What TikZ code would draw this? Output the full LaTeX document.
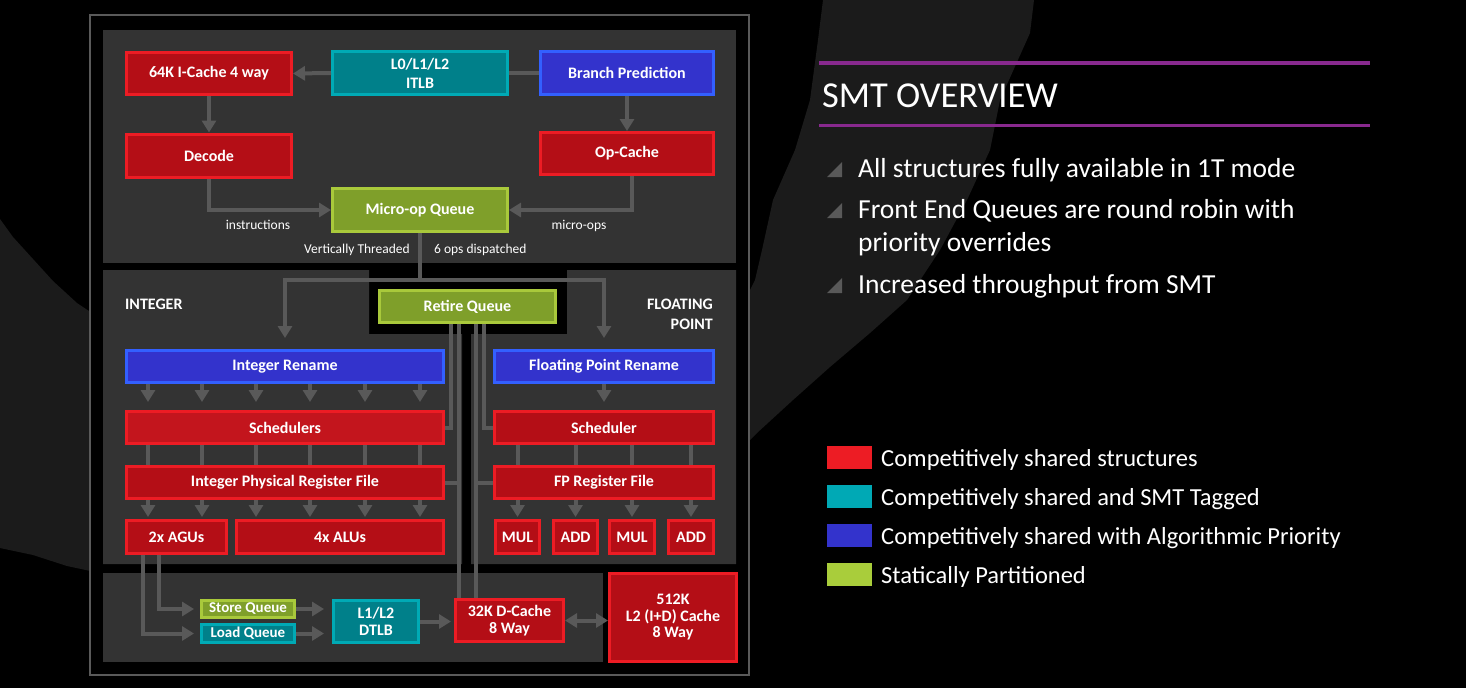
\documentclass[tikz,border=0pt]{standalone}
\usepackage{fontspec}
\setmainfont{Carlito}
\usetikzlibrary{arrows.meta}
\definecolor{cellred}{HTML}{B40E16}
\definecolor{cellredlight}{HTML}{C3151D}
\definecolor{edgered}{HTML}{ED1C24}
\definecolor{cellteal}{HTML}{00808A}
\definecolor{edgeteal}{HTML}{00AAB5}
\definecolor{cellblue}{HTML}{3333CC}
\definecolor{edgeblue}{HTML}{3360FF}
\definecolor{cellgreen}{HTML}{7F9F2A}
\definecolor{edgegreen}{HTML}{A9C93B}
\definecolor{panelgray}{HTML}{333333}
\definecolor{linkgray}{HTML}{595959}
\definecolor{framegray}{HTML}{5A5A5A}
\definecolor{brushgray}{HTML}{1B1B1B}
\definecolor{rulepurple}{HTML}{88298E}
\definecolor{legteal}{HTML}{00A9B5}
\definecolor{leggreen}{HTML}{A9CD3B}
\tikzset{
  box/.style={draw, line width=3pt, text=white, align=center, inner sep=0pt,
    font=\bfseries\fontsize{16}{19}\selectfont},
  redbox/.style={box, fill=cellred, draw=edgered},
  tealbox/.style={box, fill=cellteal, draw=edgeteal},
  bluebox/.style={box, fill=cellblue, draw=edgeblue},
  greenbox/.style={box, fill=cellgreen, draw=edgegreen},
  link/.style={draw=linkgray, line width=4pt},
  arr/.style={link, -{Triangle[width=14pt,length=12pt]}},
  lbl/.style={text=white, inner sep=0pt, font=\fontsize{13.5}{16}\selectfont},
  unit/.style={text=white, inner sep=0pt, font=\bfseries\fontsize{16}{20}\selectfont},
  slide/.style={text=white, inner sep=0pt, anchor=base west},
}
\begin{document}
\begin{tikzpicture}[x=1pt,y=-1pt]
% Background and brush strokes
\fill[black] (0,0) rectangle (1466,688);
\useasboundingbox (0,0) rectangle (1466,688);
\fill[brushgray] (823,0) -- (1034,0) -- (1030,33) -- (1000,100) -- (990,150) -- (967,200)
  -- (940,250) -- (907,300) -- (870,333) -- (830,367) -- (793,400) -- (757,433) -- (745,445)
  -- (745,300) -- (755,280) -- (762,250) -- (773,200) -- (795,150) -- (810,100) -- (818,40) -- cycle;
\fill[brushgray] (0,219) -- (13,237) -- (33,259) -- (53,281) -- (77,303) -- (95,315)
  -- (95,572) -- (67,566) -- (33,555) -- (0,548) -- cycle;
% Frame and panels
\draw[draw=framegray, fill=black, line width=1.2pt] (90,15) rectangle (749,675);
\fill[panelgray] (103,30) rectangle (736,263);
\fill[panelgray] (103,270) -- (369,270) -- (369,334) -- (462,334) -- (462,564) -- (103,564) -- cycle;
\fill[panelgray] (567,270) -- (736,270) -- (736,564) -- (471,564) -- (471,334) -- (567,334) -- cycle;
\fill[panelgray] (103,573) rectangle (603,662);
% Front end
\node[redbox, minimum width=165pt, minimum height=42pt] (icache) at (209,73.5) {64K I-Cache 4 way};
\node[tealbox, minimum width=175pt, minimum height=43pt] (itlb) at (420,73) {L0/L1/L2\\ITLB};
\node[bluebox, minimum width=173pt, minimum height=43pt] (branch) at (627,73) {Branch Prediction};
\node[redbox, minimum width=165pt, minimum height=43pt] (decode) at (209,155.5) {Decode};
\node[redbox, minimum width=173pt, minimum height=42pt] (opcache) at (627,153.5) {Op-Cache};
\node[greenbox, minimum width=175pt, minimum height=43pt] (uopq) at (420,210) {Micro-op Queue};
\node[lbl, anchor=base] (instr) at (258,229) {instructions};
\node[lbl, anchor=base] (uops) at (579,229) {micro-ops};
\node[lbl, anchor=base east] (vthread) at (410,253) {Vertically Threaded};
\node[lbl, anchor=base west] (sixops) at (434,253) {6 ops dispatched};
% Integer and floating point
\node[greenbox, minimum width=176pt, minimum height=32pt] (retire) at (467.5,306.5) {Retire Queue};
\node[unit, anchor=base west] (intlbl) at (125,309) {INTEGER};
\node[unit, anchor=north east, align=right] (fplbl) at (713,298.5) {FLOATING\\POINT};
\node[bluebox, minimum width=317pt, minimum height=32pt] (intren) at (285,366.5) {Integer Rename};
\node[redbox, fill=cellredlight, minimum width=317pt, minimum height=32pt] (sched) at (285,427.5) {Schedulers};
\node[redbox, minimum width=317pt, minimum height=32pt] (iprf) at (285,482.5) {Integer Physical Register File};
\node[redbox, minimum width=100pt, minimum height=33pt] (agu) at (176.5,537) {2x AGUs};
\node[redbox, minimum width=207pt, minimum height=33pt] (alu) at (340,537) {4x ALUs};
\node[bluebox, minimum width=219pt, minimum height=32pt] (fpren) at (604,366.5) {Floating Point Rename};
\node[redbox, minimum width=219pt, minimum height=32pt] (fpsched) at (604,427.5) {Scheduler};
\node[redbox, minimum width=219pt, minimum height=32pt] (fprf) at (604,482.5) {FP Register File};
\node[redbox, minimum width=44pt, minimum height=33pt] (mul1) at (517.5,537) {MUL};
\node[redbox, minimum width=44pt, minimum height=33pt] (add1) at (575.5,537) {ADD};
\node[redbox, minimum width=45pt, minimum height=33pt] (mul2) at (632,537) {MUL};
\node[redbox, minimum width=45pt, minimum height=33pt] (add2) at (691,537) {ADD};
% Load / store
\node[greenbox, minimum width=93pt, minimum height=17pt, font=\bfseries\fontsize{15}{16}\selectfont] (storeq) at (248,609) {Store Queue};
\node[tealbox, minimum width=93pt, minimum height=18pt, font=\bfseries\fontsize{15}{16}\selectfont] (loadq) at (248,633.5) {Load Queue};
\node[tealbox, minimum width=85pt, minimum height=42pt, font=\bfseries\fontsize{16}{16.5}\selectfont] (dtlb) at (376,621.5) {L1/L2\\DTLB};
\node[redbox, minimum width=108pt, minimum height=42pt, font=\bfseries\fontsize{16}{16.5}\selectfont] (dcache) at (509.5,620.5) {32K D-Cache\\8 Way};
\node[redbox, minimum width=127pt, minimum height=88pt, font=\bfseries\fontsize{16}{16.5}\selectfont] (l2) at (673,617.5) {512K\\L2 (I+D) Cache\\8 Way};
% Front end connectors
\draw[arr] (itlb.west) -- (icache.east);
\draw[link] (branch.west) -- (itlb.east);
\draw[arr] (icache) -- (decode);
\draw[arr] (branch) -- (opcache);
\draw[arr] (decode.south) |- (uopq.west);
\draw[arr] ([xshift=5pt]opcache.south) |- (uopq.east);
\draw[link] (uopq.south) -- ++(0,47) coordinate (split);
\draw[arr, shorten >=11pt] (split) -| (intren.north);
\draw[arr, shorten >=11pt] (split) -| (fpren.north);
% Integer connectors
\foreach \dx in {23,77,131,185,240,295} {
  \draw[arr, shorten >=8pt] ([xshift=\dx pt]intren.south west) -- ([xshift=\dx pt]sched.north west);
  \draw[link] ([xshift=\dx pt]sched.south west) -- ([xshift=\dx pt]iprf.north west);
}
\foreach \a/\b in {23/23,77/77} \draw[arr, shorten >=2pt] ([xshift=\a pt]iprf.south west) -- ([xshift=\b pt]agu.north west);
\foreach \a/\b in {131/21,185/75,240/130,295/185} \draw[arr, shorten >=2pt] ([xshift=\a pt]iprf.south west) -- ([xshift=\b pt]alu.north west);
% Floating point connectors
\draw[arr, shorten >=8pt] (fpren) -- (fpsched);
\foreach \n in {mul1,add1,mul2,add2} {
  \draw[link] (\n.north |- fpsched.south) -- (\n.north |- fprf.north);
  \draw[arr, shorten >=2pt] (\n.north |- fprf.south) -- (\n.north);
}
% Retire queue links
\draw[link] ([xshift=-16.5pt]retire.south) |- (sched.east);
\draw[link] ([xshift=16.5pt]retire.south) |- (fpsched.west);
\draw[link] ([xshift=-8.5pt]retire.south) coordinate (rtl) -- ([xshift=-50.5pt]dcache.north);
\draw[link] ([xshift=8.5pt]retire.south) coordinate (rtr) -- ([xshift=-33.5pt]dcache.north);
\draw[link] (iprf.east) -- (iprf.east -| rtl);
\draw[link] (fprf.west) -- (fprf.west -| rtr);
% Load / store connectors
\draw[arr, shorten >=6pt] ([xshift=34pt]agu.south west) |- (storeq.west);
\draw[arr, shorten >=6pt] ([xshift=18pt]agu.south west) |- (loadq.west);
\draw[arr, shorten >=8pt] (storeq.east) -- (storeq.east -| dtlb.west);
\draw[arr, shorten >=8pt] (loadq.east) -- (loadq.east -| dtlb.west);
\draw[arr, shorten >=3pt] (dtlb.east) -- (dtlb.east -| dcache.west);
\draw[link, {Triangle[width=14pt,length=12pt]}-{Triangle[width=14pt,length=12pt]}] (dcache.east) -- (dcache.east -| l2.west);
% Overview text
\draw[rulepurple, line width=4pt] (819,63) -- (1370,63);
\draw[rulepurple, line width=3.5pt] (819,125.5) -- (1370,125.5);
\node[slide, font=\fontsize{36.5}{40}\selectfont] (title) at (822,107) {SMT OVERVIEW};
\foreach \y in {177,218,293} \fill[linkgray] (827,\y) -- (842,\y) -- (842,\y-15) -- cycle;
\node[slide, font=\fontsize{27.5}{32}\selectfont] (pt1) at (858,177) {All structures fully available in 1T mode};
\node[slide, font=\fontsize{27.5}{32}\selectfont] (pt2) at (858,218) {Front End Queues are round robin with};
\node[slide, font=\fontsize{27.5}{32}\selectfont] (pt2b) at (858,251) {priority overrides};
\node[slide, font=\fontsize{27.5}{32}\selectfont] (pt3) at (858,293) {Increased throughput from SMT};
% Legend
\foreach \y/\c/\t in {446/edgered/Competitively shared structures,
                      485/legteal/Competitively shared and SMT Tagged,
                      524/cellblue/Competitively shared with Algorithmic Priority,
                      563/leggreen/Statically Partitioned} {
  \fill[\c] (827,\y) rectangle (872,\y+23);
  \node[slide, font=\fontsize{24.5}{28}\selectfont] at (881,\y+20) {\t};
}
\end{tikzpicture}
\end{document}
